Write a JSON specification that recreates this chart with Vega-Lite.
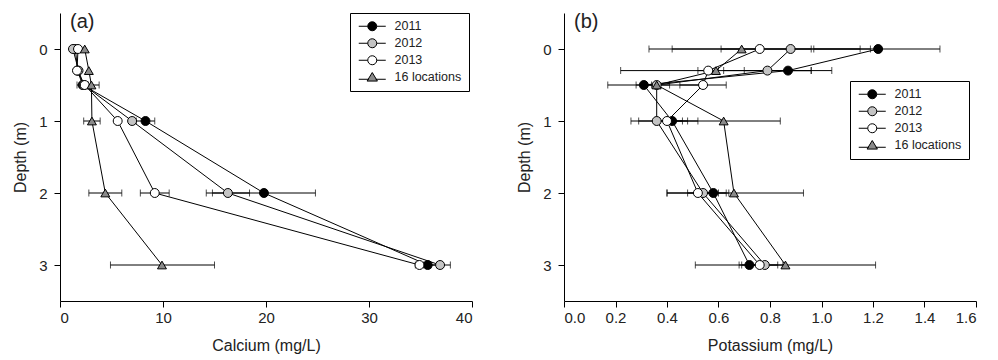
{
  "$schema": "https://vega.github.io/schema/vega-lite/v6.json",
  "padding": {"left": 12, "top": 11, "right": 5, "bottom": 5},
  "spacing": 43,
  "config": {
    "font": "Liberation Sans",
    "view": {"stroke": null},
    "axis": {"grid": false, "domainColor": "black", "tickColor": "black", "labelColor": "#222", "titleColor": "#222", "labelFontSize": 15, "titleFontSize": 16, "titleFontWeight": "normal", "tickSize": 6, "labelFont": "Liberation Sans", "titleFont": "Liberation Sans"},
    "legend": {"labelFont": "Liberation Sans", "labelFontSize": 12.5, "labelColor": "#222", "fillColor": "white", "strokeColor": "black", "padding": 7, "rowPadding": 3, "symbolSize": 81, "labelOffset": 25, "symbolStrokeColor": "black", "symbolStrokeWidth": 1}
  },
  "datasets": {
    "ca": [
      {"s": "2011", "d": 0, "v": 1.5}, {"s": "2011", "d": 0.3, "v": 1.7}, {"s": "2011", "d": 0.5, "v": 2.2, "lo": 1.65, "hi": 2.75}, {"s": "2011", "d": 1, "v": 8.3, "lo": 7.4, "hi": 9.2}, {"s": "2011", "d": 2, "v": 19.8, "lo": 14.8, "hi": 24.8}, {"s": "2011", "d": 3, "v": 35.7, "lo": 34.8, "hi": 36.6},
      {"s": "2012", "d": 0, "v": 1.26}, {"s": "2012", "d": 0.3, "v": 1.8}, {"s": "2012", "d": 0.5, "v": 2.3}, {"s": "2012", "d": 1, "v": 7.0}, {"s": "2012", "d": 2, "v": 16.3, "lo": 14.2, "hi": 18.4}, {"s": "2012", "d": 3, "v": 36.9, "lo": 36.0, "hi": 37.9},
      {"s": "2013", "d": 0, "v": 1.75}, {"s": "2013", "d": 0.3, "v": 1.65}, {"s": "2013", "d": 0.5, "v": 2.4}, {"s": "2013", "d": 1, "v": 5.6}, {"s": "2013", "d": 2, "v": 9.2, "lo": 7.8, "hi": 10.6}, {"s": "2013", "d": 3, "v": 34.9, "lo": 34.5, "hi": 35.3},
      {"s": "16 locations", "d": 0, "v": 2.4}, {"s": "16 locations", "d": 0.3, "v": 2.8}, {"s": "16 locations", "d": 0.5, "v": 3.05, "lo": 2.3, "hi": 3.8}, {"s": "16 locations", "d": 1, "v": 3.1, "lo": 2.3, "hi": 3.9}, {"s": "16 locations", "d": 2, "v": 4.4, "lo": 2.8, "hi": 6.0}, {"s": "16 locations", "d": 3, "v": 9.9, "lo": 4.9, "hi": 15.0}
    ],
    "k": [
      {"s": "2011", "d": 0, "v": 1.22, "lo": 0.97, "hi": 1.46}, {"s": "2011", "d": 0.3, "v": 0.87, "lo": 0.70, "hi": 1.04}, {"s": "2011", "d": 0.5, "v": 0.31, "lo": 0.28, "hi": 0.34}, {"s": "2011", "d": 1, "v": 0.42, "lo": 0.37, "hi": 0.48}, {"s": "2011", "d": 2, "v": 0.58, "lo": 0.53, "hi": 0.63}, {"s": "2011", "d": 3, "v": 0.72, "lo": 0.68, "hi": 0.76},
      {"s": "2012", "d": 0, "v": 0.88, "lo": 0.61, "hi": 1.15}, {"s": "2012", "d": 0.3, "v": 0.79, "lo": 0.62, "hi": 0.96}, {"s": "2012", "d": 0.5, "v": 0.36, "lo": 0.31, "hi": 0.41}, {"s": "2012", "d": 1, "v": 0.36, "lo": 0.26, "hi": 0.46}, {"s": "2012", "d": 2, "v": 0.54, "lo": 0.48, "hi": 0.60}, {"s": "2012", "d": 3, "v": 0.78, "lo": 0.71, "hi": 0.85},
      {"s": "2013", "d": 0, "v": 0.76, "lo": 0.33, "hi": 1.19}, {"s": "2013", "d": 0.3, "v": 0.56, "lo": 0.52, "hi": 0.60}, {"s": "2013", "d": 0.5, "v": 0.54, "lo": 0.45, "hi": 0.63}, {"s": "2013", "d": 1, "v": 0.40, "lo": 0.29, "hi": 0.52}, {"s": "2013", "d": 2, "v": 0.52, "lo": 0.40, "hi": 0.64}, {"s": "2013", "d": 3, "v": 0.76, "lo": 0.69, "hi": 0.83},
      {"s": "16 locations", "d": 0, "v": 0.69, "lo": 0.42, "hi": 0.96}, {"s": "16 locations", "d": 0.3, "v": 0.59, "lo": 0.22, "hi": 0.96}, {"s": "16 locations", "d": 0.5, "v": 0.36, "lo": 0.17, "hi": 0.55}, {"s": "16 locations", "d": 1, "v": 0.62, "lo": 0.40, "hi": 0.84}, {"s": "16 locations", "d": 2, "v": 0.66, "lo": 0.40, "hi": 0.93}, {"s": "16 locations", "d": 3, "v": 0.86, "lo": 0.51, "hi": 1.21}
    ]
  },
  "hconcat": [
    {
      "width": 412, "height": 288,
      "data": {"name": "ca"},
      "title": {"text": "(a)", "anchor": "start", "frame": "group", "offset": -19, "dx": 10, "fontSize": 20, "fontWeight": "normal", "font": "Liberation Sans", "color": "#222"},
      "encoding": {
        "y": {"field": "d", "type": "quantitative", "scale": {"domain": [-0.5, 3.5], "reverse": true, "nice": false, "zero": false}, "axis": {"values": [0, 1, 2, 3], "title": "Depth (m)", "labelPadding": 7, "titlePadding": 10}}
      },
      "layer": [
        {"transform": [{"filter": "isValid(datum.lo)"}], "mark": {"type": "rule", "color": "black", "strokeWidth": 1},
         "encoding": {"x": {"field": "lo", "type": "quantitative", "scale": {"domain": [0, 40], "nice": false}, "axis": {"values": [0, 10, 20, 30, 40], "title": "Calcium (mg/L)", "labelPadding": 3, "titlePadding": 12}}, "x2": {"field": "hi"}}},
        {"transform": [{"filter": "isValid(datum.lo)"}], "mark": {"type": "tick", "orient": "vertical", "size": 7, "thickness": 1, "color": "black"},
         "encoding": {"x": {"field": "lo", "type": "quantitative"}}},
        {"transform": [{"filter": "isValid(datum.lo)"}], "mark": {"type": "tick", "orient": "vertical", "size": 7, "thickness": 1, "color": "black"},
         "encoding": {"x": {"field": "hi", "type": "quantitative"}}},
        {"mark": {"type": "line", "color": "black", "strokeWidth": 1},
         "encoding": {"x": {"field": "v", "type": "quantitative"}, "detail": {"field": "s"}, "order": {"field": "d"}}},
        {"transform": [{"filter": "datum.s !== '16 locations'"}], "mark": {"type": "point", "shape": "circle", "filled": true, "stroke": "black", "strokeWidth": 1, "size": 80, "opacity": 1},
         "encoding": {
           "x": {"field": "v", "type": "quantitative"},
           "fill": {"field": "s", "type": "nominal", "scale": {"domain": ["2011", "2012", "2013", "16 locations"], "range": ["#000000", "#c4c4c4", "#ffffff", "#8a8a8a"]}}
         }},
        {"transform": [{"filter": "datum.s === '16 locations'"}], "mark": {"type": "point", "shape": "triangle-up", "filled": true, "stroke": "black", "strokeWidth": 1, "size": 80, "opacity": 1},
         "encoding": {
           "x": {"field": "v", "type": "quantitative"},
           "fill": {"field": "s", "type": "nominal"}
         }},
        {"transform": [{"filter": "false"}], "mark": {"type": "point", "filled": true, "stroke": "black", "strokeWidth": 1, "size": 81, "opacity": 1},
         "encoding": {
           "x": {"field": "v", "type": "quantitative"},
           "fill": {"field": "s", "type": "nominal", "legend": {"title": null, "orient": "none", "legendX": 290, "legendY": 0}},
           "shape": {"field": "s", "type": "nominal", "scale": {"domain": ["2011", "2012", "2013", "16 locations"], "range": ["M-1,0H1M3,0H5M3,0A1,1,0,1,1,1,0A1,1,0,1,1,3,0Z", "M-1,0H1M3,0H5M3,0A1,1,0,1,1,1,0A1,1,0,1,1,3,0Z", "M-1,0H1M3,0H5M3,0A1,1,0,1,1,1,0A1,1,0,1,1,3,0Z", "M-1,0.45H1.25M2.75,0.45H5M2,-1.05L3.15,0.85L0.85,0.85Z"]}, "legend": {"title": null, "orient": "none", "legendX": 290, "legendY": 0}}
         }}
      ]
    },
    {
      "width": 412, "height": 288,
      "data": {"name": "k"},
      "title": {"text": "(b)", "anchor": "start", "frame": "group", "offset": -19, "dx": 10, "fontSize": 20, "fontWeight": "normal", "font": "Liberation Sans", "color": "#222"},
      "encoding": {
        "y": {"field": "d", "type": "quantitative", "scale": {"domain": [-0.5, 3.5], "reverse": true, "nice": false, "zero": false}, "axis": {"values": [0, 1, 2, 3], "title": "Depth (m)", "labelPadding": 7, "titlePadding": 10}}
      },
      "layer": [
        {"mark": {"type": "rule", "color": "black", "strokeWidth": 1},
         "encoding": {"x": {"field": "lo", "type": "quantitative", "scale": {"domain": [0, 1.6], "nice": false}, "axis": {"values": [0, 0.2, 0.4, 0.6, 0.8, 1.0, 1.2, 1.4, 1.6], "format": ".1f", "title": "Potassium (mg/L)", "labelPadding": 3, "titlePadding": 12}}, "x2": {"field": "hi"}}},
        {"mark": {"type": "tick", "orient": "vertical", "size": 7, "thickness": 1, "color": "black"},
         "encoding": {"x": {"field": "lo", "type": "quantitative"}}},
        {"mark": {"type": "tick", "orient": "vertical", "size": 7, "thickness": 1, "color": "black"},
         "encoding": {"x": {"field": "hi", "type": "quantitative"}}},
        {"mark": {"type": "line", "color": "black", "strokeWidth": 1},
         "encoding": {"x": {"field": "v", "type": "quantitative"}, "detail": {"field": "s"}, "order": {"field": "d"}}},
        {"transform": [{"filter": "datum.s !== '16 locations'"}], "mark": {"type": "point", "shape": "circle", "filled": true, "stroke": "black", "strokeWidth": 1, "size": 80, "opacity": 1},
         "encoding": {
           "x": {"field": "v", "type": "quantitative"},
           "fill": {"field": "s", "type": "nominal", "scale": {"domain": ["2011", "2012", "2013", "16 locations"], "range": ["#000000", "#c4c4c4", "#ffffff", "#8a8a8a"]}}
         }},
        {"transform": [{"filter": "datum.s === '16 locations'"}], "mark": {"type": "point", "shape": "triangle-up", "filled": true, "stroke": "black", "strokeWidth": 1, "size": 80, "opacity": 1},
         "encoding": {
           "x": {"field": "v", "type": "quantitative"},
           "fill": {"field": "s", "type": "nominal"}
         }},
        {"transform": [{"filter": "false"}], "mark": {"type": "point", "filled": true, "stroke": "black", "strokeWidth": 1, "size": 81, "opacity": 1},
         "encoding": {
           "x": {"field": "v", "type": "quantitative"},
           "fill": {"field": "s", "type": "nominal", "legend": {"title": null, "orient": "none", "legendX": 286, "legendY": 68}},
           "shape": {"field": "s", "type": "nominal", "scale": {"domain": ["2011", "2012", "2013", "16 locations"], "range": ["M-1,0H1M3,0H5M3,0A1,1,0,1,1,1,0A1,1,0,1,1,3,0Z", "M-1,0H1M3,0H5M3,0A1,1,0,1,1,1,0A1,1,0,1,1,3,0Z", "M-1,0H1M3,0H5M3,0A1,1,0,1,1,1,0A1,1,0,1,1,3,0Z", "M-1,0.45H1.25M2.75,0.45H5M2,-1.05L3.15,0.85L0.85,0.85Z"]}, "legend": {"title": null, "orient": "none", "legendX": 286, "legendY": 68}}
         }}
      ]
    }
  ],
  "resolve": {"legend": {"fill": "independent", "shape": "independent"}, "scale": {"x": "independent"}}
}
